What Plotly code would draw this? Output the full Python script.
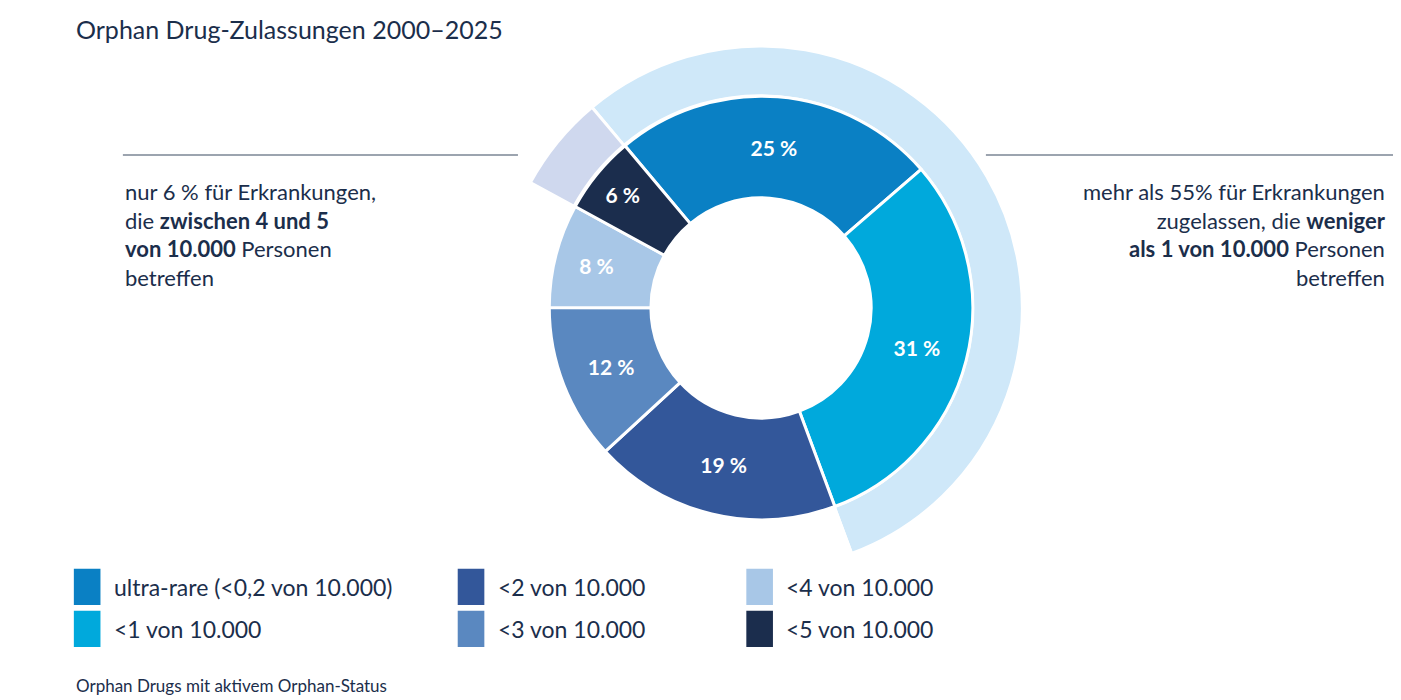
import plotly.graph_objects as go

labels = ["ultra-rare (<0,2 von 10.000)", "<1 von 10.000", "<2 von 10.000",
          "<3 von 10.000", "<4 von 10.000", "<5 von 10.000"]
shares = [25, 31, 19, 12, 8, 6]
colors = ["#0a80c4", "#00a9dc", "#33579a", "#5a88c0", "#a8c7e7", "#1b2d4d"]

ring_values = [56, 39, 6]
ring_colors = ["#cfe8f9", "rgba(0,0,0,0)", "#cfd8ee"]

# legend grid order (row-major)
legend_order = [0, 2, 4, 1, 3, 5]

navy = "#1b2e4b"
font = "Lato"

fig = go.Figure()
fig.add_trace(go.Pie(
    values=ring_values, sort=False, direction="clockwise", rotation=-40,
    hole=0.81, marker=dict(colors=ring_colors, line=dict(color="white", width=3)),
    textinfo="none", hoverinfo="skip", showlegend=False,
    domain=dict(x=[0.350, 0.724], y=[0.197, 0.946]),
))
fig.add_trace(go.Pie(
    values=shares, labels=labels, sort=False, direction="clockwise", rotation=-40,
    hole=0.52, marker=dict(colors=colors, line=dict(color="white", width=3)),
    text=[f"{v} %" for v in shares], textinfo="text", textposition="inside",
    insidetextorientation="horizontal",
    textfont=dict(family=font, size=21, color="white", weight="bold"),
    showlegend=False,
    domain=dict(x=[0.386, 0.689], y=[0.269, 0.874]),
))

anns = [
    dict(x=0.047, y=0.995, text="Orphan Drug-Zulassungen 2000–2025", xanchor="left",
         yanchor="top", font=dict(size=25, color=navy, family=font)),
    dict(x=0.082, y=0.76, text="nur 6 % für Erkrankungen,<br>die <b>zwischen 4 und 5</b><br>"
         "<b>von 10.000</b> Personen<br>betreffen", xanchor="left", yanchor="top", align="left",
         font=dict(size=22, color=navy, family=font)),
    dict(x=0.985, y=0.76, text="mehr als 55% für Erkrankungen<br>zugelassen, die <b>weniger</b><br>"
         "<b>als 1 von 10.000</b> Personen<br>betreffen", xanchor="right", yanchor="top", align="right",
         font=dict(size=22, color=navy, family=font)),
    dict(x=0.047, y=0.015, text="Orphan Drugs mit aktivem Orphan-Status", xanchor="left",
         yanchor="bottom", font=dict(size=17, color=navy, family=font)),
]
shapes = [
    dict(type="line", xref="paper", yref="paper", x0=0.082, x1=0.364, y0=0.79, y1=0.79,
         line=dict(color="#3a4a60", width=1.2)),
    dict(type="line", xref="paper", yref="paper", x0=0.698, x1=0.997, y0=0.79, y1=0.79,
         line=dict(color="#3a4a60", width=1.2)),
]
col_x = [0.047, 0.321, 0.527]
row_y = [0.173, 0.113]
for k, i in enumerate(legend_order):
    cx, cy = col_x[k % 3], row_y[k // 3]
    shapes.append(dict(type="rect", xref="paper", yref="paper", x0=cx, x1=cx + 0.019,
                       y0=cy - 0.026, y1=cy + 0.026, fillcolor=colors[i], line_width=0))
    anns.append(dict(x=cx + 0.027, y=cy, text=labels[i], xanchor="left", yanchor="middle",
                     font=dict(size=23, color=navy, family=font)))
for a in anns:
    a.update(xref="paper", yref="paper", showarrow=False)

fig.update_layout(width=1401, height=700, margin=dict(l=0, r=0, t=0, b=0),
                  paper_bgcolor="white", plot_bgcolor="white",
                  annotations=anns, shapes=shapes)
fig.write_html("out.html")
